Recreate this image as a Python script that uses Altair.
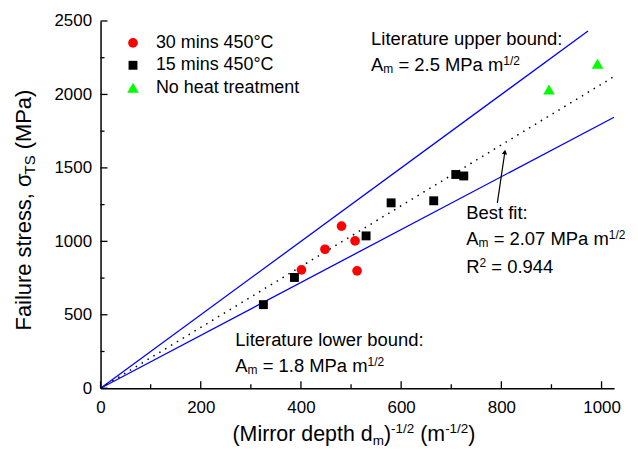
import altair as alt
import pandas as pd

FONT = "Liberation Sans"
W, H = 516, 369

# ---- data ----
red_x = [401, 448, 481, 508, 512]
red_y = [806, 946, 1104, 1003, 799]
black_x = [325, 387, 530, 580, 665, 709, 725]
black_y = [569, 754, 1037, 1262, 1276, 1455, 1445]
green_x = [895, 992]
green_y = [2033, 2209]
series_names = ["30 mins 450°C", "15 mins 450°C", "No heat treatment"]
series_colors = ["#ff0000", "#000000", "#00ff00"]
series_shapes = ["circle", "square", "triangle-up"]
series_sizes = [95, 80, 135]

upper_x = [0, 973]
upper_y = [0, 2432]
lower_x = [0, 1025]
lower_y = [0, 1845]
fit_x = [0, 1025]
fit_y = [0, 2122]

arrow_x = [792]
arrow_y = [1262]
arrow_x2 = [807]
arrow_y2 = [1608]

x_major = [0, 200, 400, 600, 800, 1000]
x_minor = [100, 300, 500, 700, 900]
y_major = [0, 500, 1000, 1500, 2000, 2500]
y_minor = [250, 750, 1250, 1750, 2250]

# ---- helpers ----
ARIAL = {" ": 278, "(": 333, ")": 333, "M": 833, "i": 222, "r": 333, "o": 556,
         "d": 556, "e": 556, "p": 556, "t": 278, "h": 556, "m": 833, "-": 333,
         "1": 556, "/": 278, "2": 556, "F": 611, "a": 556, "l": 222, "u": 556,
         "s": 500, ",": 278, "σ": 570, "T": 611, "S": 667, "P": 667, "A": 667,
         "=": 584, ".": 278, "5": 556, "0": 556, "7": 556, "8": 556, "4": 556,
         "9": 556, "R": 722, "L": 556, "b": 556, "n": 556, "f": 278, ":": 278,
         "B": 667, "w": 722}


def tw(s, size):
    return sum(ARIAL.get(c, 556) for c in s) * size / 1000.0


xscale = alt.Scale(domain=[0, 1025], nice=False, zero=False)
yscale = alt.Scale(domain=[0, 2500], nice=False, zero=False)
xaxis = alt.Axis(values=x_major, format="d", ticks=False, tickSize=0, labelFontSize=17,
                 labelFont=FONT, labelPadding=11, labelColor="black", labelFlush=False,
                 domainColor="black", domainWidth=1.5, grid=False, title=None)
yaxis = alt.Axis(values=y_major, format="d", ticks=False, tickSize=0, labelFontSize=17,
                 labelFont=FONT, labelPadding=9, labelColor="black", labelFlush=False,
                 domainColor="black", domainWidth=1.5, grid=False, title=None)


def X(f):
    return alt.X(f + ":Q", scale=xscale, axis=xaxis, title=None)


def Y(f):
    return alt.Y(f + ":Q", scale=yscale, axis=yaxis, title=None)


def rich(ax, ay, segments, pixel=False, angle=None):
    """segments: (text, fontSize, dy); leading spaces become an offset."""
    layers = []
    dx = 0.0
    for text, size, dy in segments:
        stripped = text.lstrip(" ")
        dx += tw(text[: len(text) - len(stripped)], size)
        props = dict(text=stripped, fontSize=size, dx=round(dx, 2), dy=dy, align="left",
                     baseline="alphabetic", font=FONT, color="black")
        if angle is not None:
            props["angle"] = angle
        if pixel:
            ch = alt.Chart(pd.DataFrame({"a": [0]})).mark_text(**props).encode(
                x=alt.value(ax), y=alt.value(ay))
        else:
            ch = alt.Chart(pd.DataFrame({"x": [ax], "y": [ay]})).mark_text(**props).encode(
                x=X("x"), y=Y("y"))
        layers.append(ch)
        dx += tw(stripped, size)
    return layers


# ---- data frames ----
pts = pd.DataFrame({
    "x": red_x + black_x + green_x,
    "y": red_y + black_y + green_y,
    "series": [series_names[0]] * len(red_x) + [series_names[1]] * len(black_x)
              + [series_names[2]] * len(green_x),
})

bounds = pd.DataFrame({
    "x": upper_x + lower_x,
    "y": upper_y + lower_y,
    "line": ["upper"] * 2 + ["lower"] * 2,
})
fit = pd.DataFrame({"x": fit_x, "y": fit_y})

layers = []

# bound lines
layers.append(alt.Chart(bounds).mark_line(color="#0000ff", strokeWidth=1.3, clip=True).encode(
    x=X("x"), y=Y("y"), detail="line:N"))
# best fit dotted
layers.append(alt.Chart(fit).mark_line(color="black", strokeWidth=1.5, strokeDash=[1.5, 5.4],
                                       clip=True).encode(x=X("x"), y=Y("y")))

# tick marks (inward)
layers.append(alt.Chart(pd.DataFrame({"v": x_major})).mark_rule(color="black", strokeWidth=1.3).encode(
    x=X("v"), y=alt.value(H), y2=alt.value(H - 7)))
layers.append(alt.Chart(pd.DataFrame({"v": x_minor})).mark_rule(color="black", strokeWidth=1.3).encode(
    x=X("v"), y=alt.value(H), y2=alt.value(H - 4)))
layers.append(alt.Chart(pd.DataFrame({"v": y_major})).mark_rule(color="black", strokeWidth=1.3).encode(
    y=Y("v"), x=alt.value(0), x2=alt.value(7)))
layers.append(alt.Chart(pd.DataFrame({"v": y_minor})).mark_rule(color="black", strokeWidth=1.3).encode(
    y=Y("v"), x=alt.value(0), x2=alt.value(4)))

# points
layers.append(alt.Chart(pts).mark_point(filled=True, opacity=1, strokeWidth=0).encode(
    x=X("x"), y=Y("y"),
    color=alt.Color("series:N", scale=alt.Scale(domain=series_names, range=series_colors), title=None),
    shape=alt.Shape("series:N", scale=alt.Scale(domain=series_names, range=series_shapes), title=None),
    size=alt.Size("series:N", scale=alt.Scale(type="ordinal", domain=series_names, range=series_sizes),
                  title=None),
))

# arrow
arr = pd.DataFrame({"x": arrow_x, "y": arrow_y, "x2": arrow_x2, "y2": arrow_y2})
layers.append(alt.Chart(arr).mark_rule(color="black", strokeWidth=1.2).encode(
    x=X("x"), y=Y("y"), x2="x2:Q", y2="y2:Q"))
layers.append(alt.Chart(arr).mark_point(shape="triangle-up", filled=True, size=28, angle=9,
                                        color="black", opacity=1).encode(x=X("x2"), y=Y("y2")))

# annotations (data coordinates, left/alphabetic anchored)
layers += rich(540, 2337, [("Literature upper bound:", 18.5, 0)])
layers += rich(540, 2161, [("A", 18.5, 0), ("m", 12, 2), (" = 2.5 MPa m", 18.5, 0), ("1/2", 12, -6)])
layers += rich(269, 287, [("Literature lower bound:", 18.5, 0)])
layers += rich(269, 108, [("A", 18.5, 0), ("m", 12, 2), (" = 1.8 MPa m", 18.5, 0), ("1/2", 12, -6)])
layers += rich(730, 1152, [("Best fit:", 18.5, 0)])
layers += rich(730, 976, [("A", 18.5, 0), ("m", 12, 2), (" = 2.07 MPa m", 18.5, 0), ("1/2", 12, -6)])
layers += rich(730, 786, [("R", 18.5, 0), ("2", 12, -6), (" = 0.944", 18.5, 0)])

# axis titles (rich text)
xt = [("(Mirror depth d", 21.5, 0), ("m", 13.5, 4), (")", 21.5, 0), ("-1/2", 13.5, -8),
      (" (m", 21.5, 0), ("-1/2", 13.5, -8), (")", 21.5, 0)]
xt_w = sum(tw(t, s) for t, s, _ in xt)
layers += rich(254.6 - xt_w / 2, 421.7, xt, pixel=True)

yt = [("Failure stress, σ", 22, 0), ("TS", 15, 4), (" (MPa)", 22, 0)]
yt_w = sum(tw(t, s) for t, s, _ in yt)
layers += rich(-69.4, 190 + yt_w / 2, yt, pixel=True, angle=270)

chart = alt.layer(*layers).properties(
    width=W, height=H,
    autosize=alt.AutoSizeParams(type="none"),
    padding={"left": 93, "top": 12, "right": 16, "bottom": 58},
).configure_view(stroke=None).configure_legend(
    orient="none", legendX=23.6, legendY=13, labelFont=FONT, labelFontSize=18,
    labelColor="black", labelOffset=14, rowPadding=4.5, padding=0, titleFontSize=0,
)

chart.save("out.html", embed_options={"renderer": "svg", "actions": False})
